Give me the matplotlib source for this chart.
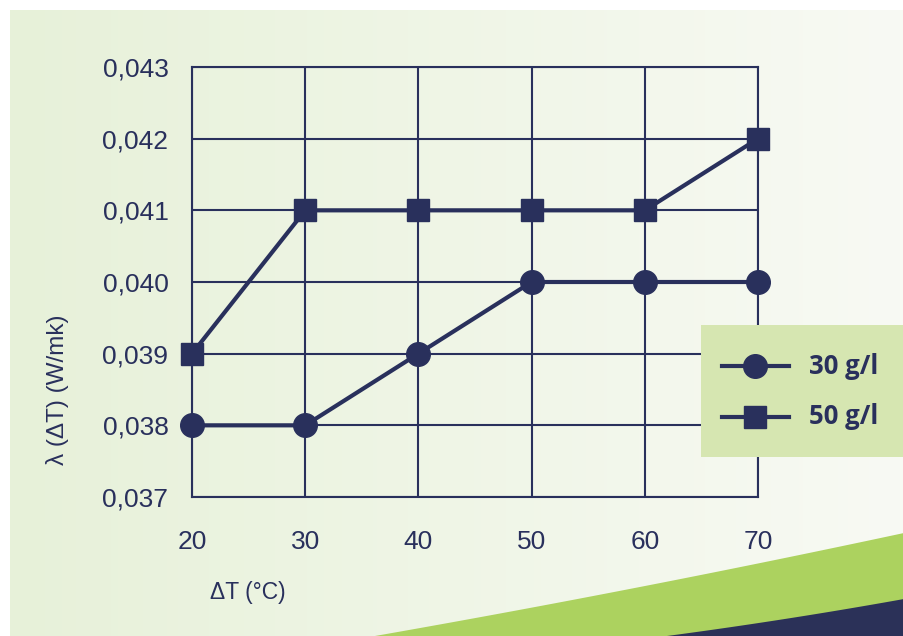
import matplotlib
matplotlib.use("Agg")
import matplotlib.pyplot as plt
import numpy as np
from matplotlib.patches import Rectangle, Polygon
from matplotlib.lines import Line2D
from matplotlib.ticker import FuncFormatter

# ---- data ----
delta_t = [20, 30, 40, 50, 60, 70]
lambda_30 = [0.038, 0.038, 0.039, 0.040, 0.040, 0.040]
lambda_50 = [0.039, 0.041, 0.041, 0.041, 0.041, 0.042]
y_ticks = [0.037, 0.038, 0.039, 0.040, 0.041, 0.042, 0.043]
series_labels = ["30 g/l", "50 g/l"]
x_label = "ΔT (°C)"
y_label = "λ (ΔT) (W/mk)"

NAVY = "#29305c"
W, H = 904, 636
fig = plt.figure(figsize=(W / 100, H / 100), dpi=100)
fig.patch.set_facecolor("white")

# ---- background panel with gradient ----
bg = fig.add_axes([0, 0, 1, 1], zorder=-10)
bg.set_xlim(0, W)
bg.set_ylim(H, 0)
bg.axis("off")
c_left = np.array([0xe7, 0xf1, 0xd9]) / 255
c_right = np.array([0xf8, 0xfa, 0xf4]) / 255
t = np.linspace(0, 1, 256)[None, :, None]
grad = c_left * (1 - t) + c_right * t
bg.imshow(grad, extent=[10, W, H, 10], aspect="auto", zorder=0)

# swoosh decorations
xs = np.linspace(375, W, 60)
s = (xs - 375) / (W - 375)
green_top = 636 - 103 * (s * 0.9 + 0.1 * s ** 2)
green_poly = list(zip(xs, green_top)) + [(W, H), (375, H)]
bg.add_patch(Polygon(green_poly, closed=True, facecolor="#acd25f", edgecolor="none", zorder=1))
xn = np.linspace(667, W, 40)
sn = (xn - 667) / (W - 667)
navy_top = 636 - 37 * (sn * 0.85 + 0.15 * sn ** 2)
navy_poly = list(zip(xn, navy_top)) + [(W, H), (667, H)]
bg.add_patch(Polygon(navy_poly, closed=True, facecolor="#2b3158", edgecolor="none", zorder=2))
bg.set_xlim(0, W)
bg.set_ylim(H, 0)

# ---- main axes ----
left, right, top, bottom = 192, 758, 67, 497
ax = fig.add_axes([left / W, 1 - bottom / H, (right - left) / W, (bottom - top) / H])
ax.set_facecolor("none")
ax.set_xlim(20, 70)
ax.set_ylim(0.037, 0.043)
ax.set_xticks(delta_t)
ax.set_yticks(y_ticks)
ax.yaxis.set_major_formatter(FuncFormatter(lambda v, p: f"{v:.3f}".replace(".", ",")))
ax.grid(True, color=NAVY, linewidth=1.5)
ax.set_axisbelow(True)
for sp in ax.spines.values():
    sp.set_color(NAVY)
    sp.set_linewidth(1.5)
ax.tick_params(length=0, colors=NAVY, labelsize=19)
ax.tick_params(axis="y", pad=17)
ax.tick_params(axis="x", pad=24)
for lab in ax.get_xticklabels() + ax.get_yticklabels():
    lab.set_fontfamily("Liberation Sans")

ax.plot(delta_t, lambda_30, color=NAVY, lw=3, marker="o", ms=17, clip_on=False, zorder=5)
ax.plot(delta_t, lambda_50, color=NAVY, lw=3, marker="s", ms=16.5, clip_on=False, zorder=5)

fig.text(248 / W, 1 - 592 / H, x_label, ha="center", va="center", color=NAVY,
         fontsize=16.5, family="Liberation Sans")
fig.text(58 / W, 1 - 390 / H, y_label, ha="center", va="center", color=NAVY,
         fontsize=17.5, family="Liberation Sans", rotation=90)

# ---- legend ----
lg = fig.add_axes([0, 0, 1, 1], zorder=10)
lg.set_xlim(0, W)
lg.set_ylim(H, 0)
lg.axis("off")
lg.add_patch(Rectangle((701, 325), W - 701, 132, facecolor="#d6e6b1", edgecolor="none"))
for ypos, mk, ms, lab in [(366, "o", 17, series_labels[0]), (417, "s", 16.5, series_labels[1])]:
    lg.add_line(Line2D([722, 789], [ypos, ypos], color=NAVY, lw=3))
    lg.add_line(Line2D([755], [ypos], color=NAVY, marker=mk, ms=ms, lw=0))
    lg.text(809, ypos, lab, ha="left", va="center", color=NAVY, fontsize=18.5,
            fontweight="bold", family="Open Sans")

fig.savefig("out.png", dpi=100)
